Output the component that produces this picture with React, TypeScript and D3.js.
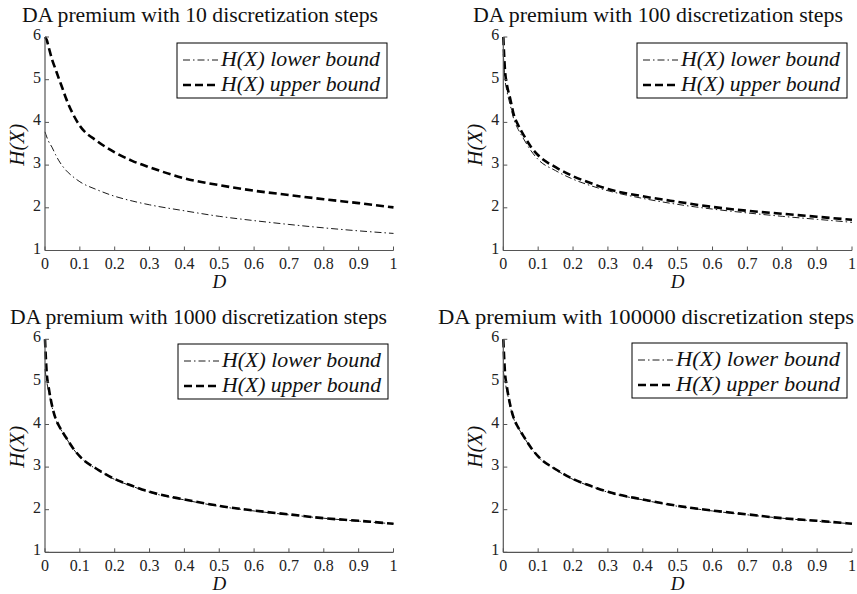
import React from "react";
import * as d3 from "d3";

const D_VALUES = [0, 0.005, 0.01, 0.02, 0.03, 0.04, 0.05, 0.06, 0.08, 0.1, 0.15, 0.2, 0.25, 0.3, 0.4, 0.5, 0.6, 0.7, 0.8, 0.9, 1];

const UPPER_10 = [6.0, 5.93, 5.78, 5.48, 5.25, 5.02, 4.8, 4.57, 4.2, 3.92, 3.56, 3.3, 3.1, 2.95, 2.69, 2.53, 2.4, 2.3, 2.2, 2.11, 2.01];
const LOWER_10 = [3.78, 3.66, 3.56, 3.42, 3.25, 3.1, 2.98, 2.88, 2.73, 2.61, 2.42, 2.27, 2.16, 2.07, 1.93, 1.8, 1.7, 1.61, 1.53, 1.46, 1.4];

const UPPER_100 = [6.0, 5.2, 4.9, 4.55, 4.18, 3.98, 3.82, 3.68, 3.42, 3.23, 2.95, 2.74, 2.58, 2.44, 2.27, 2.14, 2.02, 1.93, 1.86, 1.79, 1.72];
const LOWER_100 = [5.6, 5.0, 4.75, 4.4, 4.08, 3.88, 3.73, 3.59, 3.33, 3.13, 2.87, 2.67, 2.52, 2.4, 2.22, 2.08, 1.97, 1.88, 1.8, 1.73, 1.66];

const UPPER_1000 = [6.0, 5.2, 4.9, 4.45, 4.15, 3.97, 3.83, 3.7, 3.45, 3.25, 2.95, 2.72, 2.56, 2.42, 2.24, 2.09, 1.98, 1.89, 1.8, 1.74, 1.67];
const LOWER_1000 = [5.3, 5.0, 4.8, 4.42, 4.13, 3.96, 3.82, 3.69, 3.44, 3.24, 2.94, 2.71, 2.55, 2.41, 2.23, 2.08, 1.97, 1.88, 1.8, 1.73, 1.67];

const UPPER_100000 = [6.0, 5.2, 4.9, 4.45, 4.15, 3.97, 3.83, 3.7, 3.45, 3.25, 2.95, 2.72, 2.56, 2.42, 2.24, 2.09, 1.98, 1.89, 1.8, 1.74, 1.67];
const LOWER_100000 = [5.25, 5.0, 4.8, 4.42, 4.13, 3.96, 3.82, 3.69, 3.44, 3.24, 2.94, 2.71, 2.55, 2.41, 2.23, 2.08, 1.97, 1.88, 1.8, 1.73, 1.67];

const X_TICKS = [0, 0.1, 0.2, 0.3, 0.4, 0.5, 0.6, 0.7, 0.8, 0.9, 1];
const Y_TICKS = [1, 2, 3, 4, 5, 6];
const TITLES = [
  "DA premium with 10 discretization steps",
  "DA premium with 100 discretization steps",
  "DA premium with 1000 discretization steps",
  "DA premium with 100000 discretization steps",
];
const LEGEND_LABELS = ["H(X) lower bound", "H(X) upper bound"];

const PANELS = [
  { title: TITLES[0], upper: UPPER_10, lower: LOWER_10, x0: 45, x1: 393.5, y0: 37, y1: 250.5, tcx: 200, tw: 356, lx: 177, ly: 43, lw: 210 },
  { title: TITLES[1], upper: UPPER_100, lower: LOWER_100, x0: 503.3, x1: 852, y0: 37, y1: 250.5, tcx: 658, tw: 370, lx: 637, ly: 43, lw: 210 },
  { title: TITLES[2], upper: UPPER_1000, lower: LOWER_1000, x0: 45, x1: 393.5, y0: 339.3, y1: 552.3, tcx: 198.5, tw: 377, lx: 178, ly: 344, lw: 210 },
  { title: TITLES[3], upper: UPPER_100000, lower: LOWER_100000, x0: 503.3, x1: 852, y0: 339.3, y1: 552.3, tcx: 646, tw: 416, lx: 632, ly: 343, lw: 215 },
];

const FONT = "'Liberation Serif', 'Times New Roman', serif";
const AXIS = "#555";
const LOWER_DASH = "7,3,1.5,3";
const UPPER_DASH = "8,4";

function Panel({ p }: { p: (typeof PANELS)[number] }) {
  const x = d3.scaleLinear().domain([0, 1]).range([p.x0, p.x1]);
  const y = d3.scaleLinear().domain([1, 6]).range([p.y1, p.y0]);
  const line = d3
    .line<number>()
    .x((_, i) => x(D_VALUES[i]))
    .y((v) => y(v))
    .curve(d3.curveMonotoneX);
  const titleY = p.y0 - 15;
  return (
    <g>
      <text x={p.tcx} y={titleY} textAnchor="middle" fontFamily={FONT} fontSize={21} textLength={p.tw} lengthAdjust="spacingAndGlyphs" fill="#111">
        {p.title}
      </text>
      <path d={line(p.lower) || ""} fill="none" stroke="#000" strokeWidth={0.9} strokeDasharray={LOWER_DASH} />
      <path d={line(p.upper) || ""} fill="none" stroke="#000" strokeWidth={2.6} strokeDasharray={UPPER_DASH} />
      <line x1={p.x0} x2={p.x0} y1={p.y0} y2={p.y1} stroke={AXIS} strokeWidth={1.2} />
      <line x1={p.x0} x2={p.x1} y1={p.y1} y2={p.y1} stroke={AXIS} strokeWidth={1.2} />
      {X_TICKS.map((t) => (
        <g key={"x" + t}>
          <line x1={x(t)} x2={x(t)} y1={p.y1} y2={p.y1 - 4} stroke={AXIS} strokeWidth={1} />
          <text x={x(t)} y={p.y1 + 18.5} textAnchor="middle" fontFamily={FONT} fontSize={16} fill="#222">
            {t}
          </text>
        </g>
      ))}
      {Y_TICKS.map((t) => (
        <g key={"y" + t}>
          <line x1={p.x0} x2={p.x0 + 4} y1={y(t)} y2={y(t)} stroke={AXIS} strokeWidth={1} />
          <text x={p.x0 - 4} y={y(t) + 3} textAnchor="end" fontFamily={FONT} fontSize={16} fill="#222">
            {t}
          </text>
        </g>
      ))}
      <text x={(p.x0 + p.x1) / 2} y={p.y1 + 37.3} textAnchor="middle" fontFamily={FONT} fontStyle="italic" fontSize={19} fill="#111">
        D
      </text>
      <text
        transform={`translate(${p.x0 - 21},${(p.y0 + p.y1) / 2 + 1}) rotate(-90)`}
        textAnchor="middle"
        fontFamily={FONT}
        fontStyle="italic"
        fontSize={21}
        fill="#111"
      >
        H(X)
      </text>
      <rect x={p.lx} y={p.ly} width={p.lw} height={55} fill="#fff" stroke="#000" strokeWidth={1} />
      <line x1={p.lx + 6} x2={p.lx + 41} y1={p.ly + 17} y2={p.ly + 17} stroke="#000" strokeWidth={0.9} strokeDasharray={LOWER_DASH} />
      <line x1={p.lx + 6} x2={p.lx + 41} y1={p.ly + 42} y2={p.ly + 42} stroke="#000" strokeWidth={2.6} strokeDasharray={UPPER_DASH} />
      {LEGEND_LABELS.map((l, i) => (
        <text key={l} x={p.lx + 44} y={p.ly + 23 + i * 25} fontFamily={FONT} fontStyle="italic" fontSize={21} textLength={p.lw - 51} lengthAdjust="spacingAndGlyphs" fill="#111">
          {l}
        </text>
      ))}
    </g>
  );
}

export default function App() {
  return (
    <svg width={857} height={594} style={{ position: "absolute", left: 0, top: 0, background: "#fff" }}>
      <rect width={857} height={594} fill="#fff" />
      {PANELS.map((p, i) => (
        <Panel key={i} p={p} />
      ))}
    </svg>
  );
}
